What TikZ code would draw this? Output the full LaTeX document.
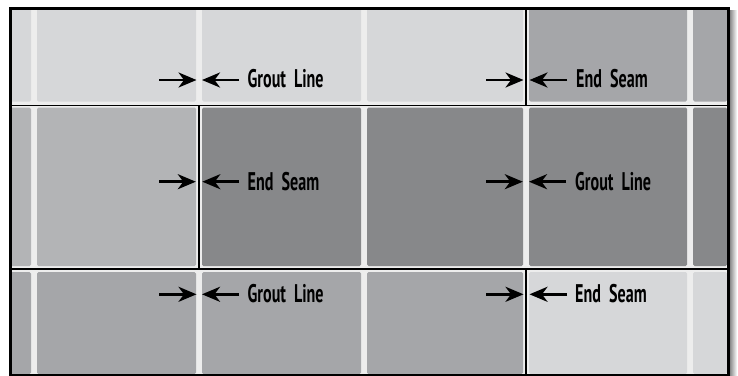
\documentclass[tikz,border=0pt]{standalone}
\usepackage{fontspec}
\setmainfont{PT Sans}[FakeStretch=0.63,WordSpace=2.0]
\usetikzlibrary{arrows.meta}
\definecolor{tlight}{HTML}{D6D7D9}
\definecolor{tmed}{HTML}{A5A6A9}
\definecolor{tmid}{HTML}{B3B4B6}
\definecolor{tdark}{HTML}{87888A}
\definecolor{grout}{HTML}{EDEDED}
\begin{document}
\begin{tikzpicture}[x=1pt,y=-1pt,
  tilebox/.style={rounded corners=1.5pt},
  seamline/.style={black,line width=1.8pt},
  arr/.style={line width=2.7pt,-{Stealth[length=18pt,width=15pt,inset=5.5pt]}},
  lbl/.style={inner sep=0pt,anchor=base west,font=\fontsize{25.5}{29}\selectfont\bfseries}]
\useasboundingbox (0,0) rectangle (738,375);
% shadow
\shade[left color=black!55,right color=white] (728.5,10) rectangle (737,375);
% grout background
\fill[grout] (9.3,7) rectangle (727.2,374);
% row 1
\foreach \a/\b/\c in {9/31/tlight,37/196/tlight,202/361/tlight,367/523/tlight,529/687/tmed,693/727/tmed}
  \fill[\c,tilebox] (\a,8) rectangle (\b,101.5);
% row 2
\foreach \a/\b/\c in {9/31/tmid,37/196/tmid,202/361/tdark,367/523/tdark,529/687/tdark,693/727/tdark}
  \fill[\c,tilebox] (\a,107.5) rectangle (\b,266);
% row 3
\foreach \a/\b/\c in {9/31/tmed,37/196/tmed,202/361/tmed,367/523/tmed,529/687/tlight,693/727/tlight}
  \fill[\c,tilebox] (\a,272) rectangle (\b,374);
% row dividers and seams
\coordinate (h1a) at (9.3,105.5); \coordinate (h1b) at (727.2,105.5);
\coordinate (h2a) at (9.3,269); \coordinate (h2b) at (727.2,269);
\draw[seamline] (h1a) -- (h1b);
\draw[seamline] (h2a) -- (h2b);
\coordinate (s1a) at (526.3,7); \coordinate (s1b) at (526.3,105.5);
\coordinate (s2a) at (198.8,105.5); \coordinate (s2b) at (198.8,269);
\coordinate (s3a) at (526.3,269); \coordinate (s3b) at (526.3,374);
\draw[seamline] (s1a) -- (s1b);
\draw[seamline] (s2a) -- (s2b);
\draw[seamline] (s3a) -- (s3b);
% frame
\node[draw=black,line width=2.8pt,inner sep=0pt,minimum width=717.9pt,minimum height=367pt,anchor=north west] (frame) at (9.3,7) {};
% arrows row 1
\coordinate (a1s) at (159,80); \coordinate (a1e) at (196.5,80);
\coordinate (a2s) at (239,80); \coordinate (a2e) at (202,80);
\coordinate (a3s) at (486,80); \coordinate (a3e) at (523.5,80);
\coordinate (a4s) at (567,80); \coordinate (a4e) at (529.5,80);
% arrows row 2
\coordinate (b1s) at (159,181.7); \coordinate (b1e) at (195.8,181.7);
\coordinate (b2s) at (239,181.7); \coordinate (b2e) at (202.3,181.7);
\coordinate (b3s) at (486,181.7); \coordinate (b3e) at (522.8,181.7);
\coordinate (b4s) at (566,181.7); \coordinate (b4e) at (529,181.7);
% arrows row 3
\coordinate (c1s) at (159,294.3); \coordinate (c1e) at (196.5,294.3);
\coordinate (c2s) at (239,294.3); \coordinate (c2e) at (202,294.3);
\coordinate (c3s) at (486,294.3); \coordinate (c3e) at (523.5,294.3);
\coordinate (c4s) at (567,294.3); \coordinate (c4e) at (529.5,294.3);
\foreach \p in {a1,a2,a3,a4,b1,b2,b3,b4,c1,c2,c3,c4}
  \draw[arr] (\p s) -- (\p e);
% labels
\node[lbl] (l1) at (247.5,87.5) {Grout Line};
\node[lbl] (l2) at (576,87.5) {End Seam};
\node[lbl] (l3) at (247.5,190) {End Seam};
\node[lbl] (l4) at (575,190) {Grout Line};
\node[lbl] (l5) at (247.5,302) {Grout Line};
\node[lbl] (l6) at (575,302) {End Seam};
\end{tikzpicture}
\end{document}
